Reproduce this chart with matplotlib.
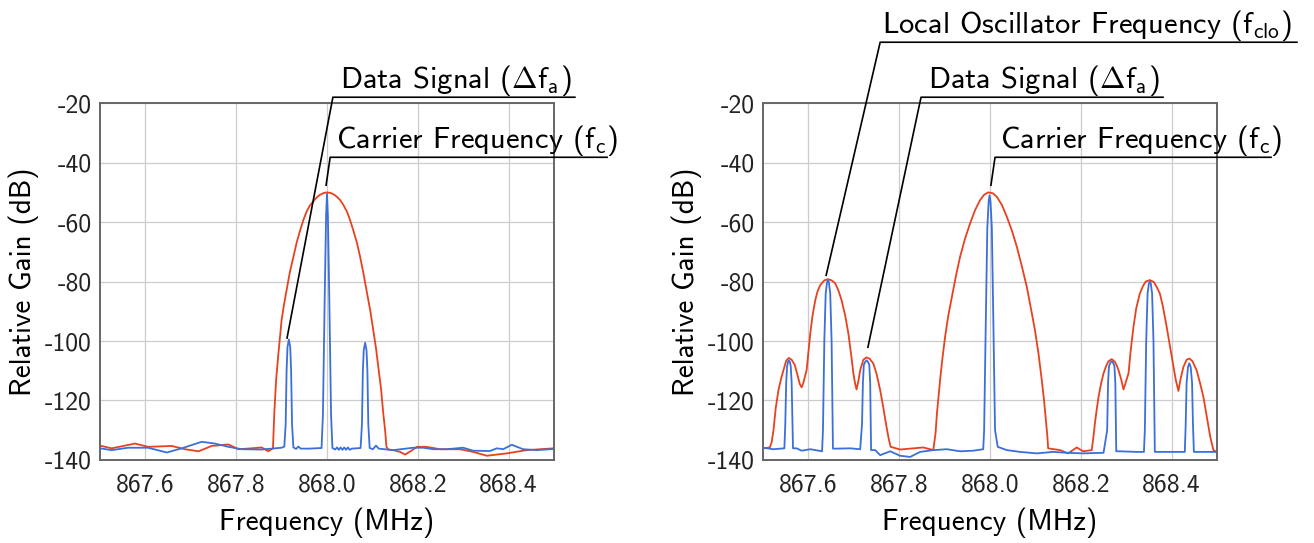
import matplotlib
matplotlib.use("Agg")
import matplotlib.pyplot as plt

plt.rcParams["font.family"] = ["cmss10", "DejaVu Sans"]
plt.rcParams["mathtext.fontset"] = "cm"
plt.rcParams["axes.unicode_minus"] = False

RED = "#E8411E"
BLUE = "#3B6FD9"

# ---- left panel: single carrier ----
left_red_f = [867.500, 867.526, 867.577, 867.606, 867.658, 867.687, 867.717, 867.746,
              867.783, 867.805, 867.834, 867.856, 867.871, 867.881, 867.884, 867.888,
              867.893, 867.900, 867.905, 867.911, 867.918, 867.926, 867.933, 867.941,
              867.948, 867.955, 867.962, 867.970, 867.978, 867.985, 867.993, 868.000,
              868.008, 868.015, 868.022, 868.029, 868.036, 868.044, 868.051, 868.058,
              868.066, 868.073, 868.080, 868.087, 868.095, 868.102, 868.108, 868.113,
              868.119, 868.124, 868.128, 868.131, 868.135, 868.146, 868.161, 868.172,
              868.185, 868.198, 868.219, 868.249, 868.293, 868.322, 868.352, 868.396,
              868.440, 868.500]
left_red_g = [-135.2, -136.1, -134.5, -135.6, -135.3, -136.4, -137.1, -135.3,
              -134.8, -136.4, -136.1, -135.8, -137.1, -136.1, -124.0, -113.0,
              -104.2, -93.0, -88.0, -82.9, -77.0, -71.7, -67.0, -62.7,
              -59.3, -56.5, -54.5, -53.0, -51.6, -50.8, -50.2, -50.0,
              -50.2, -50.7, -51.5, -52.6, -54.2, -56.5, -59.4, -62.8,
              -67.0, -71.7, -77.0, -82.9, -89.5, -96.4, -102.5, -108.7,
              -116.0, -124.4, -130.0, -135.6, -136.5, -136.7, -137.3, -138.2,
              -137.0, -135.6, -135.6, -136.4, -136.4, -137.3, -138.6, -137.8,
              -136.7, -136.1]

left_blue_f = [867.500, 867.526, 867.562, 867.606, 867.647, 867.680, 867.702, 867.724,
               867.753, 867.783, 867.812, 867.856, 867.900,
               867.906, 867.909, 867.911, 867.913, 867.916, 867.919, 867.921, 867.923, 867.926,
               867.932, 867.937, 867.942, 867.960,
               867.988, 867.991, 867.995, 867.998, 868.000, 868.002, 868.005, 868.009, 868.012,
               868.018, 868.022, 868.026, 868.030, 868.034, 868.038, 868.042, 868.046,
               868.050, 868.055,
               868.074, 868.077, 868.079, 868.081, 868.084, 868.087, 868.089, 868.091, 868.094,
               868.101, 868.108, 868.114, 868.120, 868.146, 868.190, 868.212, 868.234,
               868.264, 868.300, 868.322, 868.359, 868.374, 868.388, 868.407, 868.432,
               868.462, 868.491, 868.500]
left_blue_g = [-136.1, -136.7, -135.9, -135.9, -137.5, -136.1, -135.0, -133.9,
               -134.5, -135.6, -136.4, -136.5, -135.9,
               -135.5, -128.0, -110.0, -102.0, -99.5, -102.0, -110.0, -128.0, -135.8,
               -136.3, -135.5, -136.2, -136.2,
               -136.0, -125.0, -85.0, -58.0, -50.5, -58.0, -85.0, -125.0, -136.0,
               -136.5, -135.8, -136.6, -135.8, -136.6, -135.8, -136.6, -135.8,
               -136.6, -136.2,
               -136.0, -128.0, -110.0, -103.0, -100.6, -103.0, -110.0, -128.0, -136.0,
               -136.4, -135.2, -136.2, -136.3, -136.7, -135.9, -135.9, -136.4,
               -136.4, -135.9, -136.9, -137.0, -136.1, -136.4, -134.9, -136.4,
               -136.7, -136.4, -136.3]

# ---- right panel: carrier with local oscillator ----
right_red_f = [867.501, 867.515, 867.519, 867.523, 867.528, 867.534, 867.540, 867.545,
               867.551, 867.557, 867.563, 867.570, 867.576, 867.581, 867.585, 867.589,
               867.593, 867.596, 867.600, 867.604, 867.609, 867.615, 867.620, 867.626,
               867.635, 867.643, 867.651, 867.659, 867.666, 867.673, 867.681, 867.688,
               867.694, 867.699, 867.703, 867.706, 867.710, 867.714, 867.721, 867.728,
               867.735, 867.743, 867.750, 867.758, 867.765, 867.772, 867.777, 867.781,
               867.802, 867.824, 867.853, 867.875, 867.880, 867.883, 867.890, 867.895,
               867.901, 867.908, 867.916, 867.925, 867.934, 867.945, 867.956, 867.967,
               867.978, 867.987, 867.996, 868.006, 868.015, 868.026, 868.037, 868.048,
               868.059, 868.070, 868.081, 868.090, 868.099, 868.107, 868.114, 868.119,
               868.123, 868.126, 868.128, 868.154, 868.172, 868.191, 868.205, 868.224,
               868.228, 868.231, 868.235, 868.239, 868.245, 868.250, 868.256, 868.261,
               868.268, 868.275, 868.279, 868.283, 868.289, 868.294, 868.299, 868.305,
               868.310, 868.316, 868.322, 868.330, 868.337, 868.343, 868.352, 868.361,
               868.367, 868.374, 868.381, 868.389, 868.396, 868.404, 868.409, 868.415,
               868.420, 868.426, 868.433, 868.439, 868.446, 868.455, 868.462, 868.470,
               868.477, 868.485, 868.492, 868.499]
right_red_g = [-136.1, -135.8, -134.0, -130.0, -122.5, -116.5, -112.5, -109.8,
               -106.6, -105.7, -106.3, -108.1, -111.5, -114.5, -115.6, -114.0,
               -111.5, -109.8, -103.5, -97.5, -91.5, -86.3, -83.3, -81.2,
               -79.6, -79.2, -79.6, -80.6, -83.0, -86.3, -91.5, -97.5,
               -104.5, -110.9, -114.5, -116.3, -113.5, -109.8, -106.3, -105.5,
               -106.0, -107.6, -111.0, -116.5, -122.5, -128.9, -133.0, -135.6,
               -136.5, -136.2, -135.8, -136.7, -131.0, -124.4, -113.2, -106.0,
               -98.6, -91.5, -85.2, -78.0, -71.7, -65.5, -60.5, -56.0,
               -52.6, -50.8, -50.0, -50.3, -51.5, -54.2, -58.2, -62.8,
               -68.3, -74.8, -81.8, -89.0, -96.4, -104.5, -113.2, -120.0,
               -126.6, -131.5, -136.1, -136.7, -137.8, -135.8, -137.1, -136.7,
               -132.0, -127.7, -123.0, -118.8, -114.0, -110.9, -108.3, -106.8,
               -106.1, -107.0, -108.2, -109.8, -113.0, -116.3, -113.8, -110.9,
               -103.0, -95.2, -89.0, -84.0, -81.5, -80.0, -79.5, -80.2,
               -81.8, -84.0, -88.5, -95.2, -101.5, -108.7, -113.0, -116.8,
               -112.5, -108.7, -106.3, -105.9, -106.8, -109.8, -113.8, -118.8,
               -125.0, -132.2, -136.7, -137.3]

right_blue_f = [867.500, 867.523, 867.547,
                867.549, 867.551, 867.553, 867.555, 867.557, 867.559, 867.561, 867.563, 867.566,
                867.574, 867.585, 867.604, 867.630,
                867.632, 867.635, 867.638, 867.641, 867.643, 867.645, 867.648, 867.651, 867.654,
                867.662, 867.692, 867.714,
                867.718, 867.720, 867.722, 867.725, 867.728, 867.731, 867.734, 867.736, 867.738,
                867.747, 867.758, 867.780, 867.802, 867.824, 867.846, 867.875, 867.905,
                867.934, 867.963, 867.985,
                867.987, 867.990, 867.994, 867.997, 867.999, 868.001, 868.004, 868.008, 868.011,
                868.017, 868.037, 868.066, 868.103, 868.139, 868.169, 868.205, 868.250,
                868.258, 868.260, 868.262, 868.265, 868.268, 868.271, 868.274, 868.276, 868.278,
                868.286, 868.323, 868.339,
                868.341, 868.344, 868.347, 868.350, 868.352, 868.354, 868.357, 868.360, 868.363,
                868.374, 868.411, 868.429,
                868.431, 868.433, 868.436, 868.439, 868.442, 868.445, 868.447, 868.449,
                868.455, 868.500]
right_blue_g = [-135.9, -136.4, -136.1,
                -128.0, -114.0, -108.5, -107.0, -106.5, -107.0, -108.5, -114.0, -136.1,
                -136.1, -136.9, -136.4, -137.1,
                -130.0, -100.0, -84.0, -80.2, -79.5, -80.2, -84.0, -100.0, -136.2,
                -136.2, -136.1, -136.4,
                -128.0, -114.0, -108.0, -107.0, -106.5, -107.0, -108.0, -114.0, -136.7,
                -136.7, -138.4, -137.1, -138.6, -139.0, -137.3, -136.7, -136.4,
                -137.1, -136.9, -136.4,
                -130.0, -100.0, -62.0, -53.0, -51.0, -53.0, -62.0, -100.0, -130.0,
                -135.6, -136.7, -137.3, -137.8, -137.3, -137.6, -137.8, -137.6,
                -130.0, -114.0, -108.5, -107.3, -106.8, -107.3, -108.5, -114.0, -137.1,
                -137.1, -137.3, -137.3,
                -130.0, -100.0, -84.0, -80.6, -80.0, -80.6, -84.0, -100.0, -137.3,
                -137.3, -137.3, -137.3,
                -128.0, -114.0, -108.8, -107.5, -108.8, -114.0, -128.0, -137.3,
                -137.3, -137.3]

# annotation anchors: (peak tip, corner of leader, end of underline, text pos, label)
left_notes = [
    ((867.912, -99.0), (868.013, -18.0), 868.546, (868.029, -15.0), r"Data Signal ($\Delta$f$_\mathregular{a}$)"),
    ((867.998, -47.6), (868.007, -38.2), 868.617, (868.020, -35.1), r"Carrier Frequency (f$_\mathregular{c}$)"),
]
right_notes = [
    ((867.639, -77.9), (867.758, 0.5), 868.676, (867.762, 3.5), r"Local Oscillator Frequency (f$_\mathregular{clo}$)"),
    ((867.731, -102.1), (867.848, -18.0), 868.381, (867.863, -15.0), r"Data Signal ($\Delta$f$_\mathregular{a}$)"),
    ((868.002, -47.6), (868.011, -38.2), 868.619, (868.022, -35.1), r"Carrier Frequency (f$_\mathregular{c}$)"),
]

xticks = [867.6, 867.8, 868.0, 868.2, 868.4]
yticks = [-140, -120, -100, -80, -60, -40, -20]


def style_axes(ax):
    ax.set_xlim(867.5, 868.5)
    ax.set_ylim(-140, -20)
    ax.set_xticks(xticks)
    ax.set_xticklabels(["%.1f" % t for t in xticks])
    ax.set_yticks(yticks)
    ax.grid(True, color="#cccccc", linewidth=0.9)
    ax.set_axisbelow(True)
    ax.tick_params(axis="both", length=0, labelsize=18.5, colors="#222222")
    ax.tick_params(axis="x", pad=10)
    ax.tick_params(axis="y", pad=6)
    for s in ax.spines.values():
        s.set_color("#666666")
        s.set_linewidth(1.4)
    ax.set_xlabel("Frequency (MHz)", fontsize=21, labelpad=8)
    ax.set_ylabel("Relative Gain (dB)", fontsize=21, labelpad=4)


def add_notes(ax, notes):
    for tip, corner, end_x, tpos, label in notes:
        ax.plot([tip[0], corner[0], end_x], [tip[1], corner[1], corner[1]],
                color="black", linewidth=1.2, clip_on=False, zorder=5)
        ax.text(tpos[0], tpos[1], label, fontsize=22, ha="left", va="baseline",
                clip_on=False)


fig = plt.figure(figsize=(13.14, 5.43), dpi=100)
ax1 = fig.add_axes([0.0761, 0.153, 0.3455, 0.657])
ax2 = fig.add_axes([0.5807, 0.153, 0.3455, 0.657])

ax1.plot(left_red_f, left_red_g, color=RED, linewidth=1.3)
ax1.plot(left_blue_f, left_blue_g, color=BLUE, linewidth=1.3)
ax2.plot(right_red_f, right_red_g, color=RED, linewidth=1.3)
ax2.plot(right_blue_f, right_blue_g, color=BLUE, linewidth=1.3)

for ax in (ax1, ax2):
    style_axes(ax)
add_notes(ax1, left_notes)
add_notes(ax2, right_notes)

fig.savefig("out.png", dpi=100)
